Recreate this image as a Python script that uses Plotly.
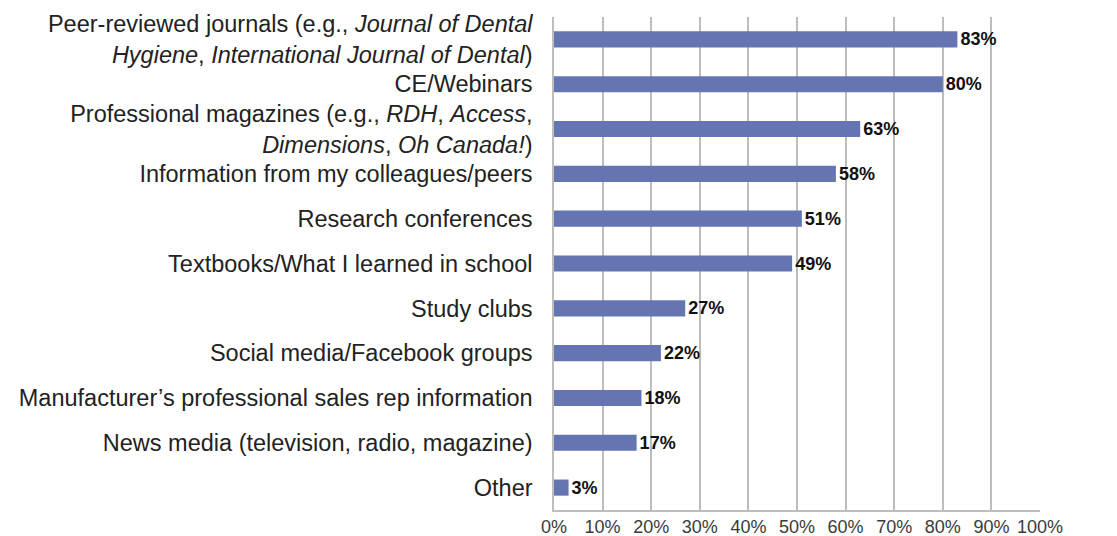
import plotly.graph_objects as go

# Survey categories (top to bottom as shown) and percentages
categories = [
    "Peer-reviewed journals (e.g., <i>Journal of Dental</i><br><i>Hygiene</i>, <i>International Journal of Dental</i>)",
    "CE/Webinars",
    "Professional magazines (e.g., <i>RDH</i>, <i>Access</i>,<br><i>Dimensions</i>, <i>Oh Canada!</i>)",
    "Information from my colleagues/peers",
    "Research conferences",
    "Textbooks/What I learned in school",
    "Study clubs",
    "Social media/Facebook groups",
    "Manufacturer\u2019s professional sales rep information",
    "News media (television, radio, magazine)",
    "Other",
]
values = [83, 80, 63, 58, 51, 49, 27, 22, 18, 17, 3]
x_ticks = list(range(0, 101, 10))
x_tick_labels = [f"{t}%" for t in x_ticks]

fig = go.Figure()

fig.add_trace(
    go.Bar(
        x=values,
        y=categories,
        orientation='h',
        marker=dict(color='#6475B2', line=dict(width=0)),
        width=0.36,
        text=[f"{v}%" for v in values],
        textposition='outside',
        constraintext='none',
        textfont=dict(family='Liberation Sans, Arial, sans-serif', size=18, color='#111111'),
        texttemplate='<b>%{text}</b>',
        cliponaxis=False,
        hovertemplate='%{x}%<extra></extra>'
    )
)

# page body has an 8px margin, so the figure is sized to fit inside the window
fig.update_layout(
    width=1109,
    height=528,
    plot_bgcolor='white',
    paper_bgcolor='white',
    showlegend=False,
    margin=dict(l=546, r=77, t=9, b=26),
    font=dict(family='Liberation Sans, Arial, sans-serif', color='#222222'),
    xaxis=dict(
        range=[0, 100],
        tickmode='array',
        tickvals=x_ticks,
        ticktext=x_tick_labels,
        showgrid=True,
        gridcolor='#BDBDBD',
        gridwidth=1.5,
        showline=True,
        linecolor='#BDBDBD',
        linewidth=1.5,
        zeroline=False,
        automargin=False,
        tickfont=dict(size=18, color='#3a3a3a'),
        fixedrange=True,
    ),
    yaxis=dict(
        autorange='reversed',
        showgrid=False,
        showline=True,
        linecolor='#BDBDBD',
        linewidth=1.5,
        ticks='',
        ticklabelstandoff=15,
        automargin=False,
        tickfont=dict(size=23.5, color='#222222'),
        fixedrange=True,
    ),
)

fig.write_html("out.html")
